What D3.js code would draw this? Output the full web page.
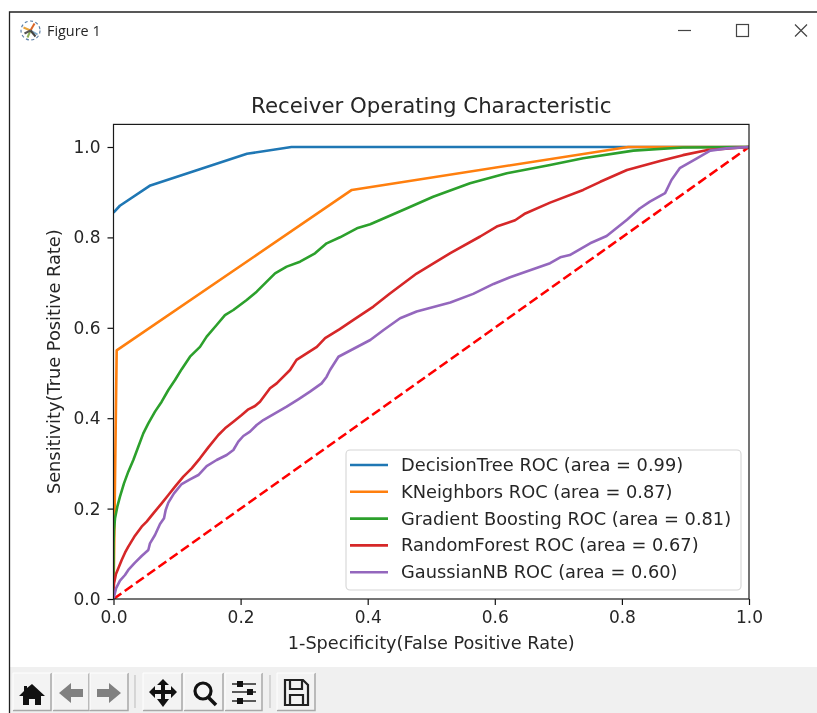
<!DOCTYPE html>
<html>
<head>
<meta charset="utf-8">
<script src="https://cdnjs.cloudflare.com/ajax/libs/d3/7.8.5/d3.min.js"></script>
<style>
html, body { margin: 0; padding: 0; background: #fff; }
svg { display: block; }
text { font-family: "DejaVu Sans", sans-serif; fill: #262626; }
</style>
</head>
<body>
<div class="container"></div>
<script>
const tickValues = [0, 0.2, 0.4, 0.6, 0.8, 1.0]

const decisionTreeX = [0, 0.01, 0.058, 0.21, 0.28, 1]
const decisionTreeY = [0.855, 0.87, 0.915, 0.985, 1, 1]

const kNeighborsX = [0, 0.005, 0.375, 0.81, 1]
const kNeighborsY = [0, 0.55, 0.905, 1, 1]

const boostingX = [0, 0.0001, 0.0008, 0.0024, 0.006, 0.0102, 0.0165, 0.0233, 0.0312, 0.039, 0.0469, 0.0548, 0.0653, 0.0758, 0.0863, 0.0968, 0.1073, 0.1204, 0.1361, 0.1466, 0.1623, 0.1754, 0.1886, 0.2096, 0.2253, 0.2411, 0.2542, 0.2725, 0.2935, 0.3171, 0.3354, 0.3564, 0.383, 0.404, 0.461, 0.503, 0.561, 0.619, 0.687, 0.739, 0.818, 0.896, 1]
const boostingY = [0, 0.1232, 0.1527, 0.1785, 0.2043, 0.2264, 0.2559, 0.2817, 0.3075, 0.337, 0.3665, 0.3886, 0.4145, 0.4366, 0.4624, 0.4845, 0.5085, 0.5361, 0.5578, 0.5804, 0.6062, 0.6282, 0.6394, 0.6615, 0.6799, 0.7021, 0.7205, 0.7353, 0.7463, 0.7647, 0.7869, 0.8002, 0.82, 0.829, 0.864, 0.89, 0.92, 0.942, 0.96, 0.975, 0.992, 0.999, 1]

const forestX = [0, 0.0008, 0.0039, 0.0076, 0.0129, 0.0181, 0.0233, 0.0338, 0.0443, 0.0522, 0.0627, 0.0758, 0.0863, 0.0968, 0.1099, 0.123, 0.1361, 0.1492, 0.165, 0.1755, 0.1886, 0.2017, 0.2122, 0.2227, 0.2305, 0.2463, 0.2568, 0.2646, 0.2778, 0.288, 0.32, 0.333, 0.356, 0.377, 0.409, 0.435, 0.477, 0.53, 0.577, 0.603, 0.632, 0.648, 0.687, 0.739, 0.766, 0.808, 0.86, 0.896, 0.933, 1]
const forestY = [0, 0.0346, 0.0553, 0.0678, 0.0863, 0.1025, 0.1158, 0.1401, 0.16, 0.1711, 0.1895, 0.2117, 0.2301, 0.2485, 0.2706, 0.2891, 0.3112, 0.3355, 0.3628, 0.3776, 0.3923, 0.4071, 0.4196, 0.427, 0.4366, 0.4661, 0.4771, 0.4883, 0.5066, 0.529, 0.558, 0.577, 0.597, 0.617, 0.647, 0.676, 0.72, 0.765, 0.802, 0.824, 0.838, 0.853, 0.877, 0.905, 0.923, 0.949, 0.969, 0.982, 0.993, 1]

const gaussianX = [0, 0.004, 0.0102, 0.0181, 0.0233, 0.0338, 0.0443, 0.0548, 0.0574, 0.0653, 0.0732, 0.0795, 0.0821, 0.0863, 0.0952, 0.1073, 0.1204, 0.1335, 0.1466, 0.1623, 0.1781, 0.1886, 0.1964, 0.2043, 0.2148, 0.2253, 0.2358, 0.2541, 0.2725, 0.2908, 0.3092, 0.3275, 0.3354, 0.3407, 0.354, 0.404, 0.425, 0.451, 0.477, 0.53, 0.566, 0.598, 0.624, 0.687, 0.703, 0.718, 0.75, 0.776, 0.808, 0.828, 0.844, 0.868, 0.878, 0.891, 0.918, 0.939, 0.965, 1]
const gaussianY = [0, 0.0236, 0.0406, 0.0531, 0.0642, 0.0804, 0.0951, 0.1084, 0.1232, 0.1416, 0.1659, 0.1785, 0.1969, 0.2131, 0.2338, 0.2544, 0.2647, 0.2743, 0.2942, 0.3075, 0.3186, 0.3296, 0.348, 0.3606, 0.3702, 0.385, 0.396, 0.4108, 0.4255, 0.4418, 0.4587, 0.4771, 0.4919, 0.5066, 0.536, 0.573, 0.595, 0.621, 0.636, 0.656, 0.675, 0.697, 0.712, 0.743, 0.756, 0.761, 0.787, 0.803, 0.839, 0.864, 0.879, 0.898, 0.927, 0.953, 0.975, 0.992, 0.997, 1]

const chanceX = [0, 1]
const chanceY = [0, 1]

const names = [
    "DecisionTree ROC (area = 0.99)",
    "KNeighbors ROC (area = 0.87)",
    "Gradient Boosting ROC (area = 0.81)",
    "RandomForest ROC (area = 0.67)",
    "GaussianNB ROC (area = 0.60)"
]
const colors = ["#1f77b4", "#ff7f0e", "#2ca02c", "#d62728", "#9467bd"]
const seriesX = [decisionTreeX, kNeighborsX, boostingX, forestX, gaussianX]
const seriesY = [decisionTreeY, kNeighborsY, boostingY, forestY, gaussianY]

const w = 817
const h = 713
const left = 113.5
const right = 749
const bottom = 599
const top1 = 147   // pixel of y = 1.0

const svg = d3.select(".container").append("svg")
    .attr("width", w)
    .attr("height", h)
    .style("filter", "blur(0.45px)")

const xScale = d3.scaleLinear().domain([0, 1]).range([left, right])
const yScale = d3.scaleLinear().domain([0, 1]).range([bottom, top1])
const axesTop = yScale(1.05)

const lineGen = d3.line().x(d => xScale(d[0])).y(d => yScale(d[1]))
const toPoints = (xs, ys) => xs.map((x, i) => [x, ys[i]])

// window frame
function drawWindow() {
    svg.append("rect").attr("x", 9).attr("y", 667).attr("width", w - 9).attr("height", h - 667).attr("fill", "#f0f0f0")
    svg.append("path").attr("d", `M${w},12H9.5V${h}`).attr("fill", "none").attr("stroke", "#222").attr("stroke-width", 1.3)

    svg.append("text").attr("x", 47).attr("y", 36)
        .style("font-family", "'Open Sans', sans-serif").style("font-size", "14.4px").attr("fill", "#222")
        .text("Figure 1")

    const logo = svg.append("g").attr("transform", "translate(30.5,30.5)")
    logo.append("circle").attr("r", 9.5).attr("fill", "#fff").attr("stroke", "#5a7fa8").attr("stroke-width", 1.2).attr("stroke-dasharray", "3,2.5")
    const spokes = [[-7, -3, "#e8a33a"], [4, -7, "#d9662a"], [7, 4, "#7aa7c7"], [-3, 7, "#8fb05a"], [-6, 3, "#555"], [5, 6, "#444"]]
    spokes.forEach(s => {
        logo.append("line").attr("x1", 0).attr("y1", 0).attr("x2", s[0]).attr("y2", s[1]).attr("stroke", s[2]).attr("stroke-width", 2)
    })

    const g = svg.append("g").attr("fill", "none").attr("stroke", "#444").attr("stroke-width", 1.2)
    g.append("path").attr("d", "M678,30.5H691")
    g.append("rect").attr("x", 736.5).attr("y", 24.5).attr("width", 12).attr("height", 12)
    g.append("path").attr("d", "M795,24.5L807,36.5M807,24.5L795,36.5")
}

// toolbar buttons
function drawToolbar() {
    const buttons = [[13, 38], [53, 36], [90, 38], [143, 39], [184, 39], [225, 37], [277, 38]]
    buttons.forEach(b => {
        svg.append("rect").attr("x", b[0]).attr("y", 673).attr("width", b[1]).attr("height", 37).attr("fill", "#f3f3f3")
        svg.append("path").attr("d", `M${b[0]},710.5H${b[0] + b[1]}V673`).attr("fill", "none").attr("stroke", "#a8a8a8").attr("stroke-width", 1.5)
        svg.append("path").attr("d", `M${b[0]},710V673H${b[0] + b[1]}`).attr("fill", "none").attr("stroke", "#fff").attr("stroke-width", 1)
    })
    ;[135, 270].forEach(x => {
        svg.append("line").attr("x1", x).attr("x2", x).attr("y1", 675).attr("y2", 708).attr("stroke", "#c4c4c4").attr("stroke-width", 1.2)
    })

    svg.append("path").attr("fill", "#111")
        .attr("d", "M32,684L45,696H41V705H35V699H29V705H23V696H19L24,691V686H27V688Z")
    svg.append("path").attr("fill", "#808080")
        .attr("d", "M59,693L71,683V689H83V697H71V703Z")
    svg.append("path").attr("fill", "#808080")
        .attr("d", "M121,693L109,683V689H97V697H109V703Z")
    svg.append("path").attr("fill", "#111")
        .attr("d", "M163,679L169,685H165V690H171V686L177,692L171,698V694H165V699H169L163,707L157,699H161V694H155V698L149,692L155,686V690H161V685H157Z")
    svg.append("circle").attr("cx", 203).attr("cy", 691).attr("r", 8).attr("fill", "none").attr("stroke", "#111").attr("stroke-width", 3.2)
    svg.append("line").attr("x1", 208).attr("y1", 697).attr("x2", 216).attr("y2", 705).attr("stroke", "#111").attr("stroke-width", 3.5)
    ;[[684, 240], [692, 250], [701, 240]].forEach(r => {
        svg.append("line").attr("x1", 232).attr("x2", 256).attr("y1", r[0]).attr("y2", r[0]).attr("stroke", "#333").attr("stroke-width", 1.6)
        svg.append("rect").attr("x", r[1] - 3).attr("y", r[0] - 3).attr("width", 6).attr("height", 6).attr("fill", "#111")
    })
    svg.append("path").attr("fill", "none").attr("stroke", "#222").attr("stroke-width", 2.2)
        .attr("d", "M285,680H303L308,685V705H285Z M290,680V689H302V680 M290,705V695H303V705")
}

function drawLines() {
    svg.append("clipPath").attr("id", "axes-clip").append("rect")
        .attr("x", left).attr("y", axesTop).attr("width", right - left).attr("height", bottom - axesTop)

    const plot = svg.append("g").attr("clip-path", "url(#axes-clip)").attr("fill", "none")

    plot.append("path")
        .attr("d", lineGen(toPoints(chanceX, chanceY)))
        .attr("stroke", "#ff0000")
        .attr("stroke-width", 2.6)
        .attr("stroke-dasharray", "9.6,4.2")

    plot.selectAll(".roc")
        .data(names)
        .enter()
        .append("path")
        .attr("class", "roc")
        .attr("d", (d, i) => lineGen(toPoints(seriesX[i], seriesY[i])))
        .attr("stroke", (d, i) => colors[i])
        .attr("stroke-width", 2.6)
        .attr("stroke-linejoin", "round")
}

function drawAxes() {
    const xAxis = d3.axisBottom(xScale).tickValues(tickValues).tickFormat(d3.format(".1f")).tickSize(6).tickPadding(6)
    const yAxis = d3.axisLeft(yScale).tickValues(tickValues).tickFormat(d3.format(".1f")).tickSize(6).tickPadding(7)

    const gx = svg.append("g").attr("id", "x-axis").attr("transform", `translate(0,${bottom})`).call(xAxis)
    const gy = svg.append("g").attr("id", "y-axis").attr("transform", `translate(${left},0)`).call(yAxis)
    ;[gx, gy].forEach(g => {
        g.select(".domain").remove()
        g.selectAll("line").attr("stroke", "#111").attr("stroke-width", 1.2)
        g.selectAll("text").style("font-size", "17px").style("font-family", "'DejaVu Sans'").attr("fill", "#262626")
    })

    svg.append("rect").attr("x", left).attr("y", axesTop).attr("width", right - left).attr("height", bottom - axesTop)
        .attr("fill", "none").attr("stroke", "#1a1a1a").attr("stroke-width", 1.2)

    svg.append("text").attr("x", (left + right) / 2).attr("y", 113).attr("text-anchor", "middle")
        .style("font-size", "21.3px").text("Receiver Operating Characteristic")
    svg.append("text").attr("x", (left + right) / 2).attr("y", 649).attr("text-anchor", "middle")
        .style("font-size", "17.7px").text("1-Specificity(False Positive Rate)")
    svg.append("text").attr("transform", `translate(60,${(axesTop + bottom) / 2}) rotate(-90)`).attr("text-anchor", "middle")
        .style("font-size", "17.8px").text("Sensitivity(True Positive Rate)")
}

function drawLegend() {
    const legend = svg.append("g")
    legend.append("rect").attr("x", 346).attr("y", 450).attr("width", 395).attr("height", 140).attr("rx", 4)
        .attr("fill", "#fff").attr("fill-opacity", 0.85).attr("stroke", "#d5d5d5").attr("stroke-width", 1.1)

    const rows = legend.selectAll(".row").data(names).enter().append("g")
        .attr("class", "row")
        .attr("transform", (d, i) => `translate(0,${465 + i * 26.8})`)
    rows.append("line").attr("x1", 350).attr("x2", 388).attr("stroke", (d, i) => colors[i]).attr("stroke-width", 2.6)
    rows.append("text").attr("x", 401).attr("y", 6).style("font-size", "17.8px").text(d => d)
}

drawWindow()
drawToolbar()
drawLines()
drawAxes()
drawLegend()
</script>
</body>
</html>
